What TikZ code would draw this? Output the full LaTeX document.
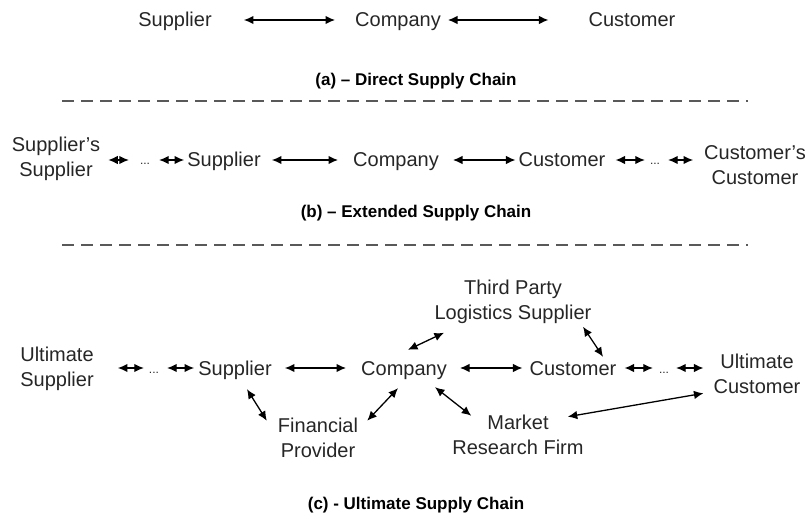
\documentclass[tikz,border=0pt]{standalone}
\usepackage{fontspec}
\setmainfont{Liberation Sans}
\usetikzlibrary{arrows.meta}
\definecolor{txt}{HTML}{262626}
\begin{document}
\begin{tikzpicture}[x=1pt,y=-1pt,
  lbl/.style={font=\fontsize{20}{24.5}\selectfont, text=txt, inner sep=0pt, align=center},
  one/.style={lbl, text height=17pt, text depth=3pt},
  capt/.style={font=\fontsize{17}{20}\selectfont\bfseries, text=black, inner sep=0pt},
  arr/.style={{Latex[length=9.5pt,width=8.5pt]}-{Latex[length=9.5pt,width=8.5pt]}, line width=1.3pt, draw=black},
  dots/.style={font=\fontsize{12}{12}\selectfont, text=txt, inner sep=0pt, text height=10pt, text depth=0pt},
  sepline/.style={dash pattern=on 12pt off 7pt, line width=1.4pt, draw=black!65}]
\useasboundingbox (0,0) rectangle (807,524);

% (a)
\node[one] (sa) at (175,20) {Supplier};
\node[one] (ca) at (398,20) {Company};
\node[one] (cua) at (632,20) {Customer};
\draw[arr, shorten <=32pt, shorten >=20pt] (sa.east) -- (ca.west);
\draw[arr, shorten <=7pt, shorten >=40pt] (ca.east) -- (cua.west);
\node[capt] (capa) at (416,81) {(a) – Direct Supply Chain};
\draw[sepline] (62,101) -- (748,101);

% (b)
\node[lbl] (ss) at (56,159) {Supplier’s\\Supplier};
\node[dots] (d1) at (145,160) {...};
\node[one] (sb) at (224,160) {Supplier};
\node[one] (cb) at (396,160) {Company};
\node[one] (cub) at (562,160) {Customer};
\node[dots] (d2) at (655,160) {...};
\node[lbl] (ccb) at (755,165) {Customer’s\\Customer};
\draw[arr, shorten <=8pt, shorten >=11pt] (ss.east |- d1.west) -- (d1.west);
\draw[arr, shorten <=9pt, shorten >=3pt] (d1.east) -- (sb.west);
\draw[arr, shorten <=11pt, shorten >=15pt] (sb.east) -- (cb.west);
\draw[arr, shorten <=14pt, shorten >=3pt] (cb.east) -- (cub.west);
\draw[arr, shorten <=10pt, shorten >=5pt] (cub.east) -- (d2.west);
\draw[arr, shorten <=8pt, shorten >=11pt] (d2.east) -- (ccb.west |- d2.east);
\node[capt] (capb) at (416,213) {(b) – Extended Supply Chain};
\draw[sepline] (62,245) -- (748,245);

% (c)
\node[lbl] (us) at (57,369) {Ultimate\\Supplier};
\node[dots] (d3) at (154,368) {...};
\node[one] (sc) at (235,368) {Supplier};
\node[one] (cc) at (404,368) {Company};
\node[one] (cuc) at (573,368) {Customer};
\node[dots] (d4) at (664,368) {...};
\node[lbl] (uc) at (757,374) {Ultimate\\Customer};
\node[lbl] (tp) at (513,302) {Third Party\\Logistics Supplier};
\node[lbl] (fp) at (318,438) {Financial\\Provider};
\node[lbl] (mr) at (518,435) {Market\\Research Firm};

\draw[arr, shorten <=24pt, shorten >=5pt] (us.east |- d3.west) -- (d3.west);
\draw[arr, shorten <=8pt, shorten >=4pt] (d3.east) -- (sc.west);
\draw[arr, shorten <=13pt, shorten >=15pt] (sc.east) -- (cc.west);
\draw[arr, shorten <=13pt, shorten >=7pt] (cc.east) -- (cuc.west);
\draw[arr, shorten <=8pt, shorten >=6pt] (cuc.east) -- (d4.west);
\draw[arr, shorten <=7pt, shorten >=10pt] (d4.east) -- (uc.west |- d4.east);

\draw[arr] ([shift={(12,11)}]sc.south) -- ([shift={(-11,2.5)}]fp.north west);
\draw[arr] ([shift={(9,2.5)}]fp.north east) -- ([shift={(-6,10)}]cc.south);
\draw[arr] ([shift={(31,9)}]cc.south) -- ([shift={(19,0.5)}]mr.north west);
\draw[arr] ([shift={(-16,1.5)}]mr.north east) -- ([shift={(-10,-0.5)}]uc.south west);
\draw[arr] ([shift={(4,-8)}]cc.north) -- ([shift={(9.5,9)}]tp.south west);
\draw[arr] ([shift={(-8.5,3)}]tp.south east) -- ([shift={(-13.5,-1)}]cuc.north east);

\node[capt] (capc) at (416,505) {(c) - Ultimate Supply Chain};
\end{tikzpicture}
\end{document}
